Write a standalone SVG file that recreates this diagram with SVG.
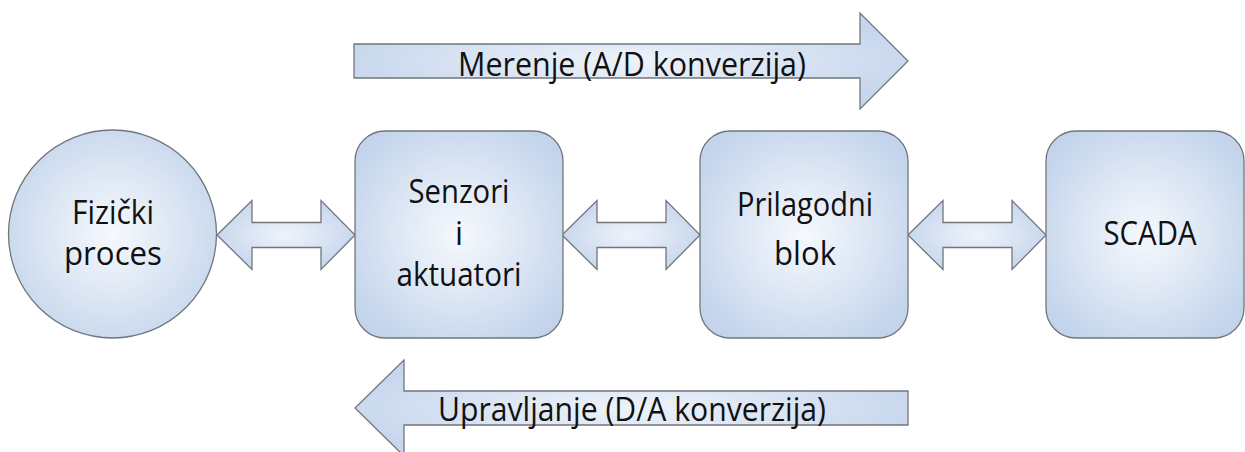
<svg xmlns="http://www.w3.org/2000/svg" width="1245" height="452" viewBox="0 0 1245 452">
  <defs>
    <radialGradient id="glow" cx="0.5" cy="0.5" r="0.62">
      <stop offset="0" stop-color="#f6f9fd"/>
      <stop offset="0.5" stop-color="#dce6f4"/>
      <stop offset="1" stop-color="#c2d3eb"/>
    </radialGradient>
    <radialGradient id="glowArrow" cx="0.5" cy="0.5" r="0.55">
      <stop offset="0" stop-color="#eef3fa"/>
      <stop offset="1" stop-color="#c6d6ed"/>
    </radialGradient>
  </defs>
  <style>
    .shape { fill: url(#glow); stroke: #72767c; stroke-width: 1.3; }
    .arrow { fill: url(#glowArrow); stroke: #72767c; stroke-width: 1.3; stroke-linejoin: miter; }
    .label { font-family: "Open Sans", "Liberation Sans", sans-serif; font-size: 32px; fill: #111111; text-anchor: middle; }
  </style>

  <rect width="1245" height="452" fill="#ffffff"/>

  <!-- connectors: double arrows between the blocks and the two direction arrows -->
  <g id="connectors">
    <path class="arrow" d="M217,235 L252,200.5 L252,222.5 L321,222.5 L321,200.5 L355,235 L321,269.5 L321,247.5 L252,247.5 L252,269.5 Z"/>
    <path class="arrow" d="M562,235 L597,200.5 L597,222.5 L666,222.5 L666,200.5 L700,235 L666,269.5 L666,247.5 L597,247.5 L597,269.5 Z"/>
    <path class="arrow" d="M908,235 L943,200.5 L943,222.5 L1012,222.5 L1012,200.5 L1046,235 L1012,269.5 L1012,247.5 L943,247.5 L943,269.5 Z"/>

    <g id="merenje">
      <path class="arrow" d="M354,44 L860,44 L860,13 L908,61 L860,109 L860,78 L354,78 Z"/>
      <text class="label" x="632" y="76" textLength="348" lengthAdjust="spacingAndGlyphs">Merenje (A/D konverzija)</text>
    </g>
    <g id="upravljanje">
      <path class="arrow" d="M908,391 L404,391 L404,360 L355,408 L404,456 L404,425 L908,425 Z"/>
      <text class="label" x="632" y="421" textLength="388" lengthAdjust="spacingAndGlyphs">Upravljanje (D/A konverzija)</text>
    </g>
  </g>

  <g id="fizicki-proces">
    <circle class="shape" cx="112.5" cy="234" r="104"/>
    <text class="label" x="113" y="224" textLength="82" lengthAdjust="spacingAndGlyphs">Fizički</text>
    <text class="label" x="113" y="265" textLength="98" lengthAdjust="spacingAndGlyphs">proces</text>
  </g>

  <g id="senzori-aktuatori">
    <rect class="shape" x="355" y="131" width="208" height="207" rx="30" ry="30"/>
    <text class="label" x="459" y="203" textLength="101" lengthAdjust="spacingAndGlyphs">Senzori</text>
    <text class="label" x="459" y="245">i</text>
    <text class="label" x="459" y="286" textLength="125" lengthAdjust="spacingAndGlyphs">aktuatori</text>
  </g>

  <g id="prilagodni-blok">
    <rect class="shape" x="700" y="131" width="208" height="207" rx="30" ry="30"/>
    <text class="label" x="805" y="216" textLength="136" lengthAdjust="spacingAndGlyphs">Prilagodni</text>
    <text class="label" x="805" y="265" textLength="62" lengthAdjust="spacingAndGlyphs">blok</text>
  </g>

  <g id="scada">
    <rect class="shape" x="1046" y="131" width="198" height="207" rx="30" ry="30"/>
    <text class="label" x="1150" y="245" textLength="93" lengthAdjust="spacingAndGlyphs">SCADA</text>
  </g>
</svg>
